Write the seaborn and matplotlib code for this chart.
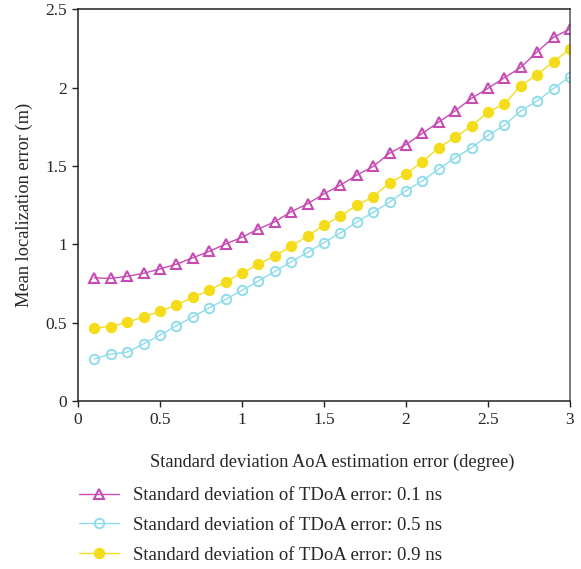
import numpy as np
import pandas as pd
import matplotlib
matplotlib.use("Agg")
import matplotlib.pyplot as plt
import seaborn as sns

# AoA error standard deviation (degree)
aoa_std = [round(0.1 * i, 1) for i in range(1, 31)]

# Mean localization error (m) for each TDoA error level
err_tdoa_01 = [0.786, 0.782, 0.796, 0.815, 0.843, 0.873, 0.914, 0.955, 1.002, 1.045,
               1.098, 1.144, 1.208, 1.259, 1.322, 1.378, 1.442, 1.497, 1.582, 1.637,
               1.709, 1.780, 1.852, 1.932, 1.996, 2.063, 2.129, 2.229, 2.321, 2.375]
err_tdoa_05 = [0.268, 0.300, 0.312, 0.364, 0.421, 0.480, 0.537, 0.594, 0.649, 0.706,
               0.766, 0.827, 0.888, 0.949, 1.011, 1.073, 1.142, 1.204, 1.270, 1.343,
               1.405, 1.481, 1.553, 1.616, 1.696, 1.760, 1.852, 1.915, 1.994, 2.071]
err_tdoa_09 = [0.466, 0.475, 0.503, 0.537, 0.572, 0.614, 0.662, 0.706, 0.761, 0.816,
               0.873, 0.925, 0.988, 1.053, 1.122, 1.180, 1.249, 1.304, 1.393, 1.449,
               1.527, 1.616, 1.684, 1.755, 1.844, 1.896, 2.013, 2.083, 2.166, 2.246]

series_labels = [
    "Standard deviation of TDoA error: 0.1 ns",
    "Standard deviation of TDoA error: 0.5 ns",
    "Standard deviation of TDoA error: 0.9 ns",
]
x_ticks = [0, 0.5, 1, 1.5, 2, 2.5, 3]
y_ticks = [0, 0.5, 1, 1.5, 2, 2.5]

sns.set_style("white")
plt.rcParams["font.family"] = ["Liberation Serif", "DejaVu Serif"]

df = pd.DataFrame({
    "aoa": aoa_std * 3,
    "err": err_tdoa_01 + err_tdoa_05 + err_tdoa_09,
    "series": sum([[lab] * len(aoa_std) for lab in series_labels], []),
})

styles = [
    dict(color="#C64CB3", marker="^", mfc="none", ms=7.5, mew=1.5),
    dict(color="#8FDCEB", marker="o", mfc="none", ms=6.8, mew=1.4),
    dict(color="#F5DC1B", marker="o", mfc="#F5DC1B", ms=7.2, mew=1.0),
]

fig = plt.figure(figsize=(5.81, 5.69), dpi=100)
ax = fig.add_axes([78 / 581, 1 - 401 / 569, (570 - 78) / 581, (401 - 9.3) / 569])

for lab, st in zip(series_labels, styles):
    sub = df[df["series"] == lab]
    sns.lineplot(data=sub, x="aoa", y="err", ax=ax, label=lab,
                 color=st["color"], marker=st["marker"],
                 markerfacecolor=st["mfc"], markeredgecolor=st["color"],
                 markersize=st["ms"], markeredgewidth=st["mew"],
                 linewidth=1.0, errorbar=None)

ax.set_xlim(0, 3)
ax.set_ylim(0, 2.5)
ax.set_xticks(x_ticks)
ax.set_yticks(y_ticks)
ax.set_xticklabels([f"{t:g}" for t in x_ticks])
ax.set_yticklabels([f"{t:g}" for t in y_ticks])
ax.tick_params(axis="both", direction="out", length=4, width=1, color="#222222",
               labelsize=12.5, bottom=True, left=True, pad=4)
for side in ["left", "bottom", "top"]:
    ax.spines[side].set_color("#222222")
    ax.spines[side].set_linewidth(1.1)
ax.spines["right"].set_color("#555555")
ax.spines["right"].set_linewidth(1.1)

ax.set_xlabel("Standard deviation AoA estimation error (degree)", fontsize=13.2)
ax.xaxis.set_label_coords(0.516, -0.135)
ax.set_ylabel("Mean localization error (m)", fontsize=13.2, labelpad=9)

handles, labels = ax.get_legend_handles_labels()
ax.get_legend().remove()
fig.legend(handles, labels, loc="upper left", bbox_to_anchor=(79 / 581, 1 - 487 / 569),
           frameon=False, fontsize=13.5, handlelength=2.13, handletextpad=0.75,
           labelspacing=0.68, borderaxespad=0, borderpad=0)

fig.savefig("out.png", dpi=100)
